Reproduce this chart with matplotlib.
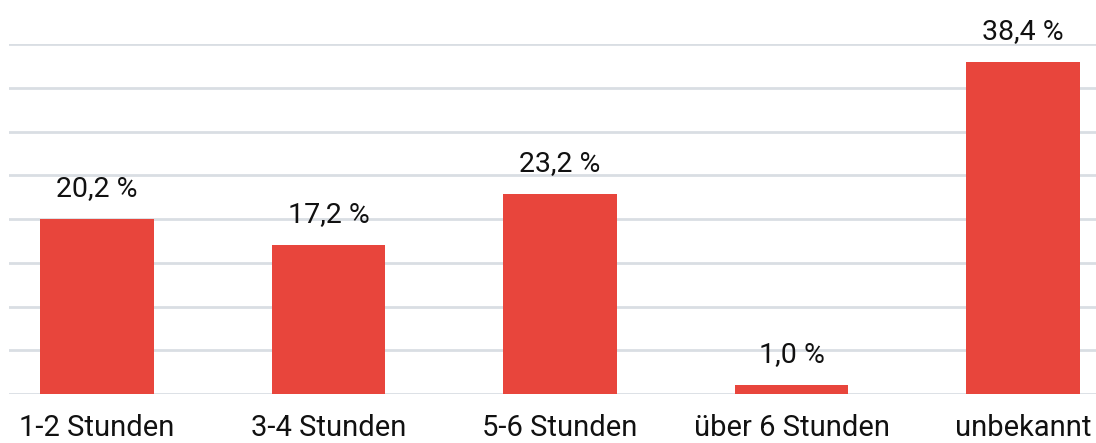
import matplotlib
matplotlib.use('Agg')
import matplotlib.pyplot as plt
import numpy as np

categories = ['1-2 Stunden', '3-4 Stunden', '5-6 Stunden', 'über 6 Stunden', 'unbekannt']
values = [20.2, 17.2, 23.2, 1.0, 38.4]
labels = ['20,2 %', '17,2 %', '23,2 %', '1,0 %', '38,4 %']

plt.rcParams['font.family'] = ['Roboto', 'DejaVu Sans']

fig = plt.figure(figsize=(10.96, 4.43), dpi=100)
ax = fig.add_axes([9 / 1096, 1 - 394 / 443, 1 - 9 / 1096, (394 - 44) / 443])

x = np.arange(len(categories))
ax.bar(x, values, width=0.49, color='#E8453C', zorder=3)

# value labels above bars
for xi, v, lab in zip(x, values, labels):
    ax.annotate(lab, (xi, v), xytext=(0, 16.5), textcoords='offset points',
                ha='center', va='baseline', fontsize=20.5, color='#111111')

ax.set_xlim(-0.38, 4.315)
ax.set_ylim(0, 40.5)
ax.set_yticks(np.linspace(0, 40.5, 9))
ax.set_yticklabels([])
ax.tick_params(axis='y', length=0)
ax.grid(axis='y', color='#D9DEE3', linewidth=2, zorder=0)
ax.set_xticks(x)
ax.set_xticklabels(categories, fontsize=21, color='#111111')
ax.tick_params(axis='x', length=0, pad=14.5)
for s in ax.spines.values():
    s.set_visible(False)

plt.savefig('out.png', dpi=100)
